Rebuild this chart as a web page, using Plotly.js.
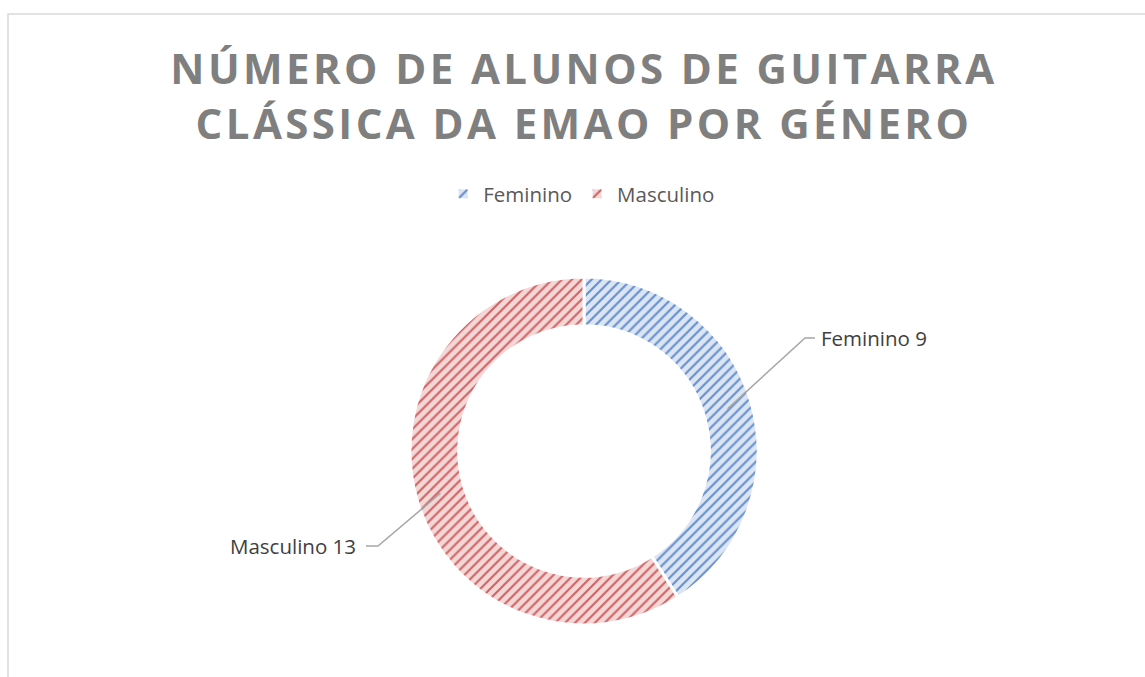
<!DOCTYPE html>
<html><head><meta charset="utf-8">
<script src="https://cdn.plot.ly/plotly-3.0.1.min.js"></script>
<style>
html,body{margin:0;padding:0;background:#fff;}
.gtitle{letter-spacing:3.4px;}
</style>
</head><body>
<div id="chart" style="width:1145px;height:677px;"></div>
<script>
const categories = ["Feminino", "Masculino"];
const values = [9, 13];
const fgColors = ["#6690cc", "#d06464"];
const bgColors = ["#dbe5f4", "#f5d7d7"];
const titleText = "NÚMERO DE ALUNOS DE GUITARRA<br>CLÁSSICA DA EMAO POR GÉNERO";

const W = 1145, H = 677;
const cx = 584, cy = 451, rOut = 174, hole = 0.72;
const px = v => v / W, py = v => 1 - v / H;

// leader line anchor (label side) positions
const labelAnchors = [
  {elbow: [805, 338], end: [815, 338], text: [819, 338], anchor: "left"},
  {elbow: [378, 546], end: [366, 546], text: [358, 546], anchor: "right"}
];

const total = values.reduce((a, b) => a + b, 0);
const rMid = rOut * (1 + hole) / 2;
let cum = 0;
const shapes = [{
  type: "rect", xref: "paper", yref: "paper",
  x0: px(8), y0: py(14), x1: 1.02, y1: -0.02,
  line: {color: "#d9d9d9", width: 1.5}, fillcolor: "rgba(0,0,0,0)"
}];
const annotations = [];
values.forEach((v, i) => {
  const mid = (cum + v / 2) / total * 2 * Math.PI;
  cum += v;
  const sx = cx + rMid * Math.sin(mid), sy = cy - rMid * Math.cos(mid);
  const la = labelAnchors[i];
  shapes.push({
    type: "path", xref: "paper", yref: "paper",
    path: `M ${px(sx)} ${py(sy)} L ${px(la.elbow[0])} ${py(la.elbow[1])} L ${px(la.end[0])} ${py(la.end[1])}`,
    line: {color: "#a6a6a6", width: 1.5}
  });
  annotations.push({
    xref: "paper", yref: "paper", x: px(la.text[0]), y: py(la.text[1]),
    xanchor: la.anchor, yanchor: "middle", showarrow: false,
    text: categories[i] + " " + v,
    font: {family: "Open Sans, Liberation Sans, sans-serif", size: 20.5, color: "#404040"}
  });
});

const trace = {
  type: "pie",
  labels: categories,
  values: values,
  hole: hole,
  sort: false,
  direction: "clockwise",
  rotation: 0,
  textinfo: "none",
  hoverinfo: "label+value",
  domain: {x: [px(cx - rOut), px(cx + rOut)], y: [py(cy + rOut), py(cy - rOut)]},
  marker: {
    colors: bgColors,
    line: {color: "#ffffff", width: 3},
    pattern: {shape: "/", fgcolor: fgColors, bgcolor: bgColors, size: 7, solidity: 0.3}
  }
};

const layout = {
  width: W, height: H,
  margin: {l: 0, r: 0, t: 0, b: 0},
  paper_bgcolor: "#ffffff",
  title: {
    text: titleText, x: 0.51, xanchor: "center", y: py(84), yanchor: "middle",
    font: {family: "Open Sans, Liberation Sans, sans-serif", size: 42, color: "#7f7f7f", weight: "bold"}
  },
  showlegend: true,
  legend: {
    orientation: "h", x: 0.508, xanchor: "center", y: py(194), yanchor: "middle",
    font: {family: "Open Sans, Liberation Sans, sans-serif", size: 20.5, color: "#595959"},
    itemwidth: 30, traceorder: "normal"
  },
  shapes: shapes,
  annotations: annotations
};

Plotly.newPlot("chart", [trace], layout, {displayModeBar: false, staticPlot: true});
</script>
</body></html>
